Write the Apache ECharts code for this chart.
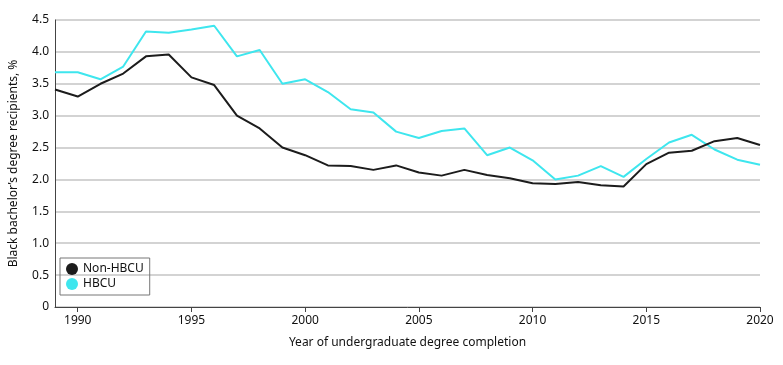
<!DOCTYPE html>
<html><head><meta charset="utf-8">
<script src="https://cdn.jsdelivr.net/npm/echarts@6/dist/echarts.min.js"></script>
<style>html,body{margin:0;padding:0;background:#fff}#c{width:783px;height:365px}</style>
</head><body><div id="c"></div>
<script>
const years = [1989,1990,1991,1992,1993,1994,1995,1996,1997,1998,1999,2000,2001,2002,2003,2004,2005,2006,2007,2008,2009,2010,2011,2012,2013,2014,2015,2016,2017,2018,2019,2020];
const nonHBCU = [3.41,3.30,3.50,3.66,3.93,3.96,3.60,3.48,3.00,2.80,2.50,2.38,2.22,2.21,2.15,2.22,2.11,2.06,2.15,2.07,2.02,1.94,1.93,1.96,1.91,1.89,2.24,2.42,2.45,2.60,2.65,2.54];
const hbcu = [3.68,3.68,3.57,3.77,4.32,4.30,4.35,4.41,3.93,4.03,3.50,3.57,3.37,3.10,3.05,2.75,2.65,2.76,2.80,2.38,2.50,2.30,2.00,2.06,2.21,2.04,2.32,2.58,2.70,2.47,2.31,2.23];
const seriesNames = ['Non-HBCU','HBCU'];
const font = 'Noto Sans';
const chart = echarts.init(document.getElementById('c'));
chart.setOption({
  animation:false,
  textStyle:{fontFamily:font},
  grid:{left:48,right:23,top:20,bottom:58},
  legend:{
    left:60, top:258, orient:'vertical', icon:'circle', itemWidth:12, itemHeight:12, itemGap:3,
    borderColor:'#777', borderWidth:1, padding:[5,6,5,6],
    textStyle:{fontFamily:font,fontSize:12,color:'#111'},
    data:seriesNames
  },
  xAxis:{
    type:'category', data:years.map(String), boundaryGap:false,
    name:'Year of undergraduate degree completion', nameLocation:'middle', nameGap:30,
    nameTextStyle:{fontFamily:font,fontSize:12,color:'#111'},
    axisLine:{lineStyle:{color:'#444',width:1}},
    axisTick:{show:true,length:5,lineStyle:{color:'#444'},interval:(i,v)=>(+v)%5===0},
    axisLabel:{fontFamily:font,fontSize:12,color:'#111',interval:(i,v)=>(+v)%5===0,margin:8},
    splitLine:{show:false}
  },
  yAxis:{
    type:'value', min:0, max:4.5, interval:0.5,
    name:'Black bachelor\u2019s degree recipients, %', nameLocation:'middle', nameGap:35,
    nameTextStyle:{fontFamily:font,fontSize:12,color:'#111'},
    axisLine:{show:true,lineStyle:{color:'#444',width:1}},
    axisTick:{show:false},
    axisLabel:{fontFamily:font,fontSize:12,color:'#111',margin:6,formatter:v=>v===0?'0':v.toFixed(1)},
    splitLine:{lineStyle:{color:'#c4c4c4',width:1.5}}
  },
  series:[
    {name:seriesNames[0],type:'line',data:nonHBCU,symbol:'none',lineStyle:{color:'#1c1c1c',width:2},itemStyle:{color:'#1c1c1c'},z:3},
    {name:seriesNames[1],type:'line',data:hbcu,symbol:'none',lineStyle:{color:'#3ee6ee',width:2},itemStyle:{color:'#3ee6ee'},z:2}
  ]
});
</script></body></html>
